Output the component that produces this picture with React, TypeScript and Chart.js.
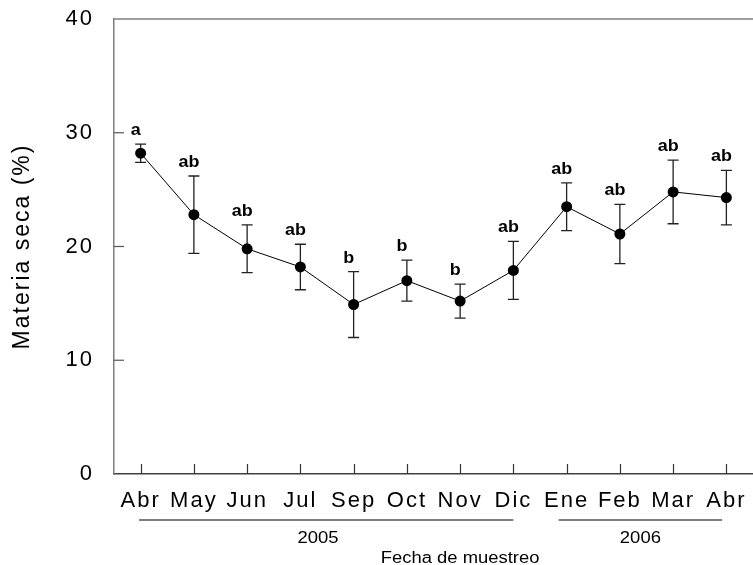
import { useEffect, useRef } from 'react';
import { Chart, registerables } from 'chart.js';

Chart.register(...registerables);

const FONT = "'Liberation Sans', Arial, Helvetica, sans-serif";

// Sampling months (April 2005 – April 2006)
const months = ['Abr', 'May', 'Jun', 'Jul', 'Sep', 'Oct', 'Nov', 'Dic', 'Ene', 'Feb', 'Mar', 'Abr'];
// Mean dry matter (%) per sampling date
const dryMatter = [28.2, 22.8, 19.8, 18.2, 14.9, 17.0, 15.2, 17.9, 23.5, 21.1, 24.8, 24.3];
// Standard error of each mean
const stdError = [0.8, 3.4, 2.1, 2.0, 2.9, 1.8, 1.5, 2.55, 2.1, 2.6, 2.8, 2.4];
// Significance groups
const groupLetters = ['a', 'ab', 'ab', 'ab', 'b', 'b', 'b', 'ab', 'ab', 'ab', 'ab', 'ab'];
// Y axis ticks
const yTicks = [0, 10, 20, 30, 40];
// Year groups: label, first and last month index
const years = ['2005', '2006'];
const yearFirstMonth = [0, 8];
const yearLastMonth = [7, 11];

function stretchedText(
  ctx: CanvasRenderingContext2D,
  text: string,
  cx: number,
  cy: number,
  sx: number
) {
  ctx.save();
  ctx.translate(cx, cy);
  ctx.scale(sx, 1);
  ctx.textAlign = 'center';
  ctx.fillText(text, 0, 0);
  ctx.restore();
}

const decorations = {
  id: 'decorations',
  beforeDraw(chart: any) {
    // axis labels are set with a little extra tracking
    (chart.ctx as any).letterSpacing = '2px';
  },
  beforeDatasetsDraw(chart: any) {
    const { ctx } = chart;
    (ctx as any).letterSpacing = '0px';
    const x = chart.scales.x;
    const y = chart.scales.y;
    ctx.save();
    ctx.strokeStyle = '#222';
    ctx.lineWidth = 1.3;
    dryMatter.forEach((m, i) => {
      const px = x.getPixelForValue(i);
      const top = y.getPixelForValue(m + stdError[i]);
      const bot = y.getPixelForValue(m - stdError[i]);
      ctx.beginPath();
      ctx.moveTo(px, top);
      ctx.lineTo(px, bot);
      ctx.moveTo(px - 5.5, top);
      ctx.lineTo(px + 5.5, top);
      ctx.moveTo(px - 5.5, bot);
      ctx.lineTo(px + 5.5, bot);
      ctx.stroke();
    });
    ctx.restore();
  },
  afterDatasetsDraw(chart: any) {
    const { ctx } = chart;
    const x = chart.scales.x;
    const y = chart.scales.y;
    ctx.save();
    ctx.fillStyle = '#000';
    ctx.font = `bold 16px ${FONT}`;
    ctx.textBaseline = 'alphabetic';
    dryMatter.forEach((m, i) => {
      const px = x.getPixelForValue(i);
      const top = y.getPixelForValue(m + stdError[i]);
      stretchedText(ctx, groupLetters[i], px - 5, top - 9, 1.12);
    });
    ctx.restore();
  },
  afterDraw(chart: any) {
    const { ctx, chartArea } = chart;
    const x = chart.scales.x;
    const y = chart.scales.y;
    ctx.save();
    // top frame line
    ctx.strokeStyle = '#7f7f7f';
    ctx.lineWidth = 1.5;
    ctx.beginPath();
    ctx.moveTo(chartArea.left, chartArea.top);
    ctx.lineTo(chartArea.right, chartArea.top);
    ctx.stroke();

    // inward tick marks
    ctx.lineWidth = 1.2;
    ctx.strokeStyle = '#555';
    yTicks.slice(1, -1).forEach((v) => {
      const py = y.getPixelForValue(v);
      ctx.beginPath();
      ctx.moveTo(chartArea.left, py);
      ctx.lineTo(chartArea.left + 10, py);
      ctx.stroke();
    });
    ctx.strokeStyle = '#333';
    months.forEach((_, i) => {
      const px = Math.round(x.getPixelForValue(i)) + 0.5;
      ctx.beginPath();
      ctx.moveTo(px, chartArea.bottom);
      ctx.lineTo(px, chartArea.bottom - 10);
      ctx.stroke();
    });

    // year brackets under the month labels
    ctx.strokeStyle = '#555';
    ctx.lineWidth = 1.5;
    ctx.fillStyle = '#000';
    ctx.font = `16.5px ${FONT}`;
    ctx.textBaseline = 'alphabetic';
    years.forEach((label, k) => {
      const x0 = x.getPixelForValue(yearFirstMonth[k] - (k === 0 ? 0.03 : 0.15));
      const x1 = x.getPixelForValue(yearLastMonth[k] - (k === 0 ? 0 : 0.08));
      ctx.beginPath();
      ctx.moveTo(x0, 520);
      ctx.lineTo(x1, 520);
      ctx.stroke();
      const cx = k === 0 ? x.getPixelForValue(3.33) : (x0 + x1) / 2;
      stretchedText(ctx, label, cx, 542.5, 1.12);
    });

    // axis caption
    ctx.font = `16px ${FONT}`;
    stretchedText(ctx, 'Fecha de muestreo', x.getPixelForValue(6), 563, 1.15);
    ctx.restore();
  },
};

export default function App() {
  const canvasRef = useRef<HTMLCanvasElement | null>(null);

  useEffect(() => {
    const canvas = canvasRef.current;
    if (!canvas) return;
    const chart = new Chart(canvas, {
      type: 'line',
      data: {
        labels: months,
        datasets: [
          {
            data: dryMatter,
            borderColor: '#000',
            borderWidth: 1,
            pointRadius: 5.5,
            pointHoverRadius: 5.5,
            pointBackgroundColor: '#000',
            pointBorderWidth: 0,
            tension: 0,
            fill: false,
          },
        ],
      },
      options: {
        animation: false,
        responsive: false,
        devicePixelRatio: 1,
        events: [],
        layout: { padding: { top: 19, right: 0, bottom: 0, left: 0 }, autoPadding: false },
        plugins: {
          legend: { display: false },
          tooltip: { enabled: false },
          title: { display: false },
        },
        scales: {
          x: {
            type: 'category',
            offset: true,
            grid: { display: false, drawTicks: false },
            border: { display: true, color: '#404040', width: 1.5 },
            ticks: {
              color: '#000',
              font: { family: FONT, size: 22 },
              padding: 14,
              maxRotation: 0,
              autoSkip: false,
            },
            afterFit: (scale: any) => {
              scale.height = 91;
              scale.paddingLeft = 0;
              scale.paddingRight = 0;
            },
          },
          y: {
            min: 0,
            max: 40,
            grid: { display: false, drawTicks: false },
            border: { display: true, color: '#7f7f7f', width: 1.5 },
            ticks: {
              stepSize: 10,
              color: '#000',
              font: { family: FONT, size: 22 },
              padding: 20,
              callback: (v: any) => String(v),
            },
            title: {
              display: true,
              text: 'Materia seca (%)',
              color: '#000',
              font: { family: FONT, size: 23 },
              padding: { top: 9, bottom: 0 },
            },
            afterFit: (scale: any) => {
              scale.width = 114;
              scale.paddingTop = 0;
              scale.paddingBottom = 0;
            },
          },
        },
      },
      plugins: [decorations],
    });
    return () => chart.destroy();
  }, []);

  return (
    <div style={{ position: 'absolute', left: 0, top: 0, width: 753, height: 565, background: '#fff' }}>
      <canvas ref={canvasRef} width={753} height={565} style={{ display: 'block' }} />
    </div>
  );
}
